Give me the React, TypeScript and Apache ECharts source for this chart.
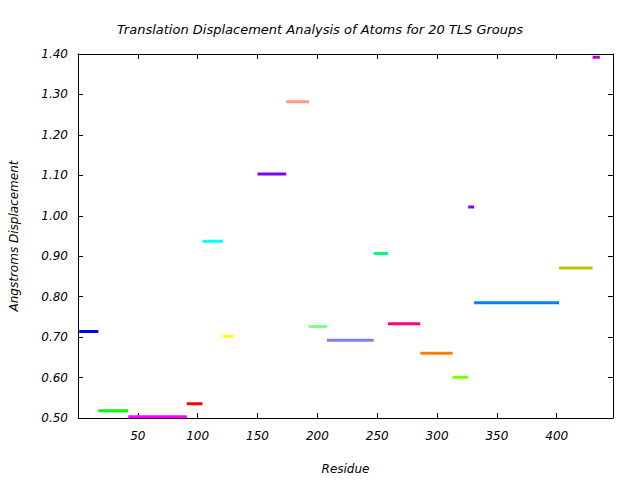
import React, { useEffect, useRef } from "react";
import * as echarts from "echarts";

const titleText = "Translation Displacement Analysis of Atoms for 20 TLS Groups";
const xName = "Residue";
const yName = "Angstroms Displacement";

const groupStart = [1, 17, 42, 91, 104, 121, 150, 174, 193, 208, 247, 259, 286, 313, 326, 331, 402, 430];
const groupEnd = [17, 42, 91, 104, 121, 130, 174, 193, 208, 247, 259, 286, 313, 326, 331, 402, 430, 436];
const displacement = [0.714, 0.518, 0.503, 0.535, 0.937, 0.702, 1.103, 1.282, 0.726, 0.692, 0.907, 0.733, 0.66, 0.601, 1.022, 0.785, 0.871, 1.392];
const groupColors = [
  "#0000ff", "#00ff00", "#ff00ff", "#ff0000", "#00ffff", "#ffff00", "#8000ff", "#ff9980", "#80ff80",
  "#8080ff", "#00ff80", "#ff0080", "#ff8000", "#80ff00", "#8000ff", "#0080ff", "#c0c000", "#c000c0",
];

const xMin = 0;
const xMax = 447;
const yMin = 0.5;
const yMax = 1.4;

export default function App() {
  const ref = useRef<HTMLDivElement>(null);
  useEffect(() => {
    if (!ref.current) return;
    const chart = echarts.init(ref.current, undefined, { renderer: "svg" });
    const font = "DejaVu Sans";
    const series = displacement.map((v, i) => ({
      type: "line",
      xAxisIndex: 0,
      yAxisIndex: 0,
      data: [
        [groupStart[i], v],
        [groupEnd[i], v],
      ],
      symbol: "none",
      lineStyle: { color: groupColors[i], width: 3, cap: "butt" },
      silent: true,
    }));
    chart.setOption({
      animation: false,
      backgroundColor: "#ffffff",
      title: {
        text: titleText,
        left: "center",
        top: 18,
        textStyle: { fontFamily: font, fontStyle: "italic", fontWeight: "normal", fontSize: 13, color: "#000" },
      },
      grid: { left: 76, right: 27, top: 54, bottom: 58, containLabel: false },
      xAxis: [
        {
          type: "value",
          min: xMin,
          max: xMax,
          interval: 50,
          position: "bottom",
          name: xName,
          nameLocation: "middle",
          nameGap: 45,
          nameTextStyle: { fontFamily: font, fontStyle: "italic", fontSize: 12, color: "#000" },
          axisLine: { show: true, onZero: false, lineStyle: { color: "#000", width: 1 } },
          axisTick: { show: true, inside: true, length: 5, lineStyle: { color: "#000" } },
          axisLabel: {
            margin: 12,
            fontFamily: font,
            fontStyle: "italic",
            fontSize: 12,
            color: "#000",
            showMinLabel: false,
            showMaxLabel: false,
          },
          splitLine: { show: false },
        },
        {
          type: "value",
          min: xMin,
          max: xMax,
          interval: 50,
          position: "top",
          axisLine: { show: true, onZero: false, lineStyle: { color: "#000", width: 1 } },
          axisTick: { show: true, inside: true, length: 5, lineStyle: { color: "#000" } },
          axisLabel: { show: false },
          splitLine: { show: false },
        },
      ],
      yAxis: [
        {
          type: "value",
          min: yMin,
          max: yMax,
          interval: 0.1,
          position: "left",
          name: yName,
          nameLocation: "middle",
          nameGap: 58,
          nameTextStyle: { fontFamily: font, fontStyle: "italic", fontSize: 12, color: "#000" },
          axisLine: { show: true, onZero: false, lineStyle: { color: "#000", width: 1 } },
          axisTick: { show: true, inside: true, length: 5, lineStyle: { color: "#000" } },
          axisLabel: {
            margin: 10,
            fontFamily: font,
            fontStyle: "italic",
            fontSize: 12,
            color: "#000",
            formatter: (v: number) => v.toFixed(2),
          },
          splitLine: { show: false },
        },
        {
          type: "value",
          min: yMin,
          max: yMax,
          interval: 0.1,
          position: "right",
          axisLine: { show: true, onZero: false, lineStyle: { color: "#000", width: 1 } },
          axisTick: { show: true, inside: true, length: 5, lineStyle: { color: "#000" } },
          axisLabel: { show: false },
          splitLine: { show: false },
        },
      ],
      series,
    });
    return () => chart.dispose();
  }, []);
  return <div ref={ref} style={{ width: 640, height: 480, position: "absolute", left: 0, top: 0 }} />;
}
